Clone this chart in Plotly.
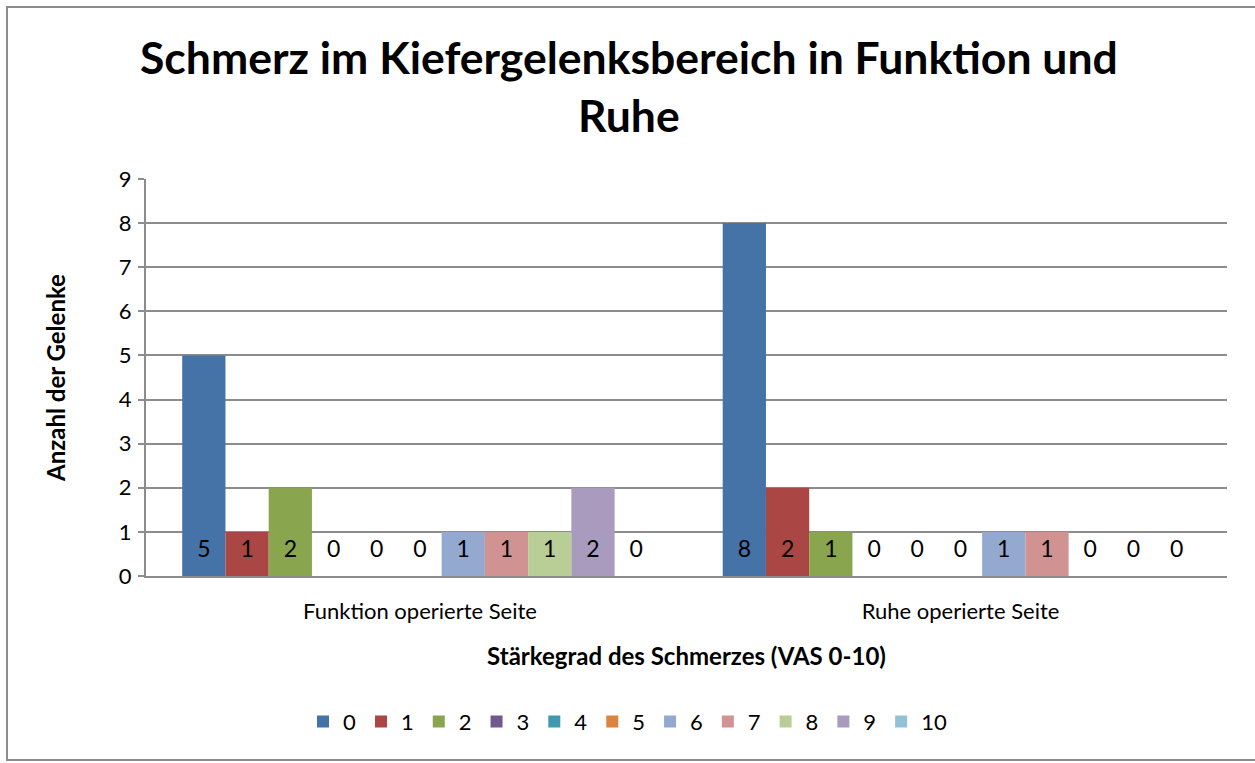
import plotly.graph_objects as go

groups = ["Funktion operierte Seite", "Ruhe operierte Seite"]
series = ["0", "1", "2", "3", "4", "5", "6", "7", "8", "9", "10"]
funktion = [5, 1, 2, 0, 0, 0, 1, 1, 1, 2, 0]
ruhe = [8, 2, 1, 0, 0, 0, 1, 1, 0, 0, 0]
colors = ["#4572A7", "#AA4643", "#89A54E", "#71588F", "#4198AF", "#DB843D",
          "#93A9CF", "#D19392", "#B9CD96", "#A99BBD", "#92C3D4"]

FONT = "Lato"
BARGAP = 0.12
LABEL_Y = 0.57

fig = go.Figure()
n = len(series)
slot = (1 - BARGAP) / n
xpos = list(range(len(groups)))
for i, s in enumerate(series):
    vals = [funktion[i], ruhe[i]]
    fig.add_trace(go.Bar(
        x=xpos, y=vals, name=s, marker=dict(color=colors[i], line=dict(width=0)),
    ))
for i, s in enumerate(series):
    vals = [funktion[i], ruhe[i]]
    off = -(1 - BARGAP) / 2 + slot * (i + 0.5)
    fig.add_trace(go.Scatter(
        x=[g + off for g in xpos], y=[LABEL_Y] * len(xpos), mode="text",
        text=[str(v) for v in vals], textposition="middle center",
        textfont=dict(family=FONT, size=23, color="black"),
        showlegend=False, hoverinfo="skip",
    ))

fig.update_layout(
    width=1255, height=763,
    barmode="group", bargap=BARGAP, bargroupgap=0,
    paper_bgcolor="white", plot_bgcolor="white",
    margin=dict(l=146, r=28, t=179, b=187),
    font=dict(family=FONT, color="black", size=20),
    annotations=[dict(
        text="<b>Schmerz im Kiefergelenksbereich in Funktion und<br>Ruhe</b>",
        xref="paper", yref="paper", x=0.4468, y=1.236,
        xanchor="center", yanchor="middle", showarrow=False,
        font=dict(family=FONT, size=44.5, color="black"),
    )],
    xaxis=dict(
        range=[-0.507, 1.493], tickvals=xpos, ticktext=groups,
        showgrid=False, showline=True, linecolor="#8c8c8c", linewidth=2,
        ticks="", tickfont=dict(size=22), zeroline=False, ticklabelstandoff=15,
        title=dict(text="<b>Stärkegrad des Schmerzes (VAS 0-10)</b>",
                   font=dict(size=24), standoff=25),
    ),
    yaxis=dict(
        range=[0, 9], dtick=1, showgrid=True, gridcolor="#8c8c8c", gridwidth=2,
        showline=True, linecolor="#8c8c8c", linewidth=2, zeroline=False,
        ticks="outside", ticklen=6, tickcolor="#8c8c8c", tickwidth=2,
        tickfont=dict(size=22), ticklabelstandoff=2,
        title=dict(text="<b>Anzahl der Gelenke</b>", font=dict(size=24), standoff=46),
    ),
    legend=dict(
        orientation="h", x=0.5, xanchor="center", xref="container",
        y=0.054, yref="container", yanchor="middle",
        font=dict(size=22), itemwidth=30, tracegroupgap=0,
    ),
    shapes=[dict(type="rect", xref="paper", yref="paper",
                 x0=-0.1286, x1=1.04, y0=-0.4635, y1=1.433,
                 line=dict(color="#8c8c8c", width=2), fillcolor="rgba(0,0,0,0)")],
)

fig.write_html("out.html", config={"displayModeBar": False},
               post_script="document.body.style.margin='0';")
